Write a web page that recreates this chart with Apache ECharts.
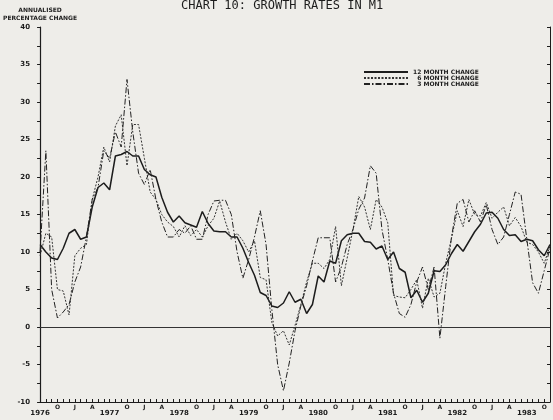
<!DOCTYPE html>
<html>
<head>
<meta charset="utf-8">
<script src="https://cdn.jsdelivr.net/npm/echarts@6/dist/echarts.min.js"></script>
<style>
	html, body { margin: 0; padding: 0; background: #eeede9; }
	#chart { width: 553px; height: 420px; }
</style>
</head>
<body>
<div id="chart"></div>
<script>
	// monthly, Jan 1976 .. May 1983
	var years = ['1976', '1977', '1978', '1979', '1980', '1981', '1982', '1983'];
	var quarterLabels = ['', 'O', 'J', 'A'];
	var seriesNames = ['12 MONTH CHANGE', '  6 MONTH CHANGE', '  3 MONTH CHANGE'];

	var change12 = [
		11, 10, 9.2, 9, 10.5, 12.5, 13, 11.7, 12, 16, 18.6, 19.2,
		18.3, 22.8, 23, 23.4, 22.8, 22.8, 21, 20.3, 20, 17.3, 15.3, 14,
		14.8, 13.9, 13.6, 13.3, 15.4, 13.8, 12.8, 12.7, 12.7, 12, 12, 10.5,
		8.6, 6.9, 4.6, 4.2, 2.8, 2.6, 3.2, 4.7, 3.3, 3.7, 1.8, 3,
		6.8, 6, 8.8, 8.5, 11.5, 12.3, 12.5, 12.5, 11.4, 11.3, 10.4, 10.8,
		9, 10, 7.8, 7.3, 3.9, 4.9, 3.3, 4.5, 7.5, 7.4, 8.3, 9.8,
		11, 10.1, 11.4, 12.7, 13.7, 15.2, 15.3, 14.5, 13, 12.2, 12.3, 11.4,
		11.7, 11.5, 10.3, 9.5, 11
	];
	var change6 = [
		9.5, 12.5, 12, 5, 4.8, 1.6, 9.5, 10.5, 11, 17, 20, 24,
		22, 26.8, 28.3, 21.5, 27, 27, 22.5, 18, 17, 15, 14, 13.4,
		12, 13.5, 12.2, 13, 12, 13.5, 14.5, 16.8, 14, 11.7, 12.5, 11.5,
		10, 11.5, 6.6, 6.3, 0.6, -1.2, -0.5, -2.4, 0.2, 3, 6, 8.5,
		8.5, 7.8, 9, 13.4, 5.5, 9.2, 13, 17.4, 16, 13, 17, 16,
		13.9, 4.2, 4, 3.9, 5, 6.3, 2.5, 6.5, 4, 4.5, 8.5, 11.8,
		15.5, 13.4, 17, 15, 14.8, 16.6, 14.5, 15.3, 16, 13.5, 14.6, 13.4,
		11.3, 11, 10, 8.5, 10.8
	];
	var change3 = [
		10, 23.5, 5, 1.2, 2, 3, 6, 8, 12, 17, 18.6, 23.5,
		22.5, 26, 24, 33, 26, 20.5, 19, 21, 17, 14, 12, 12,
		13, 12.5, 13.5, 11.7, 11.7, 15, 16.8, 16.9, 16.9, 15, 10, 6.5,
		9, 12, 15.5, 11, 2.3, -5, -8.5, -4.8, -0.5, 2.8, 5.5, 8.8,
		11.9, 11.9, 11.9, 6, 8, 11, 13, 15.7, 17.2, 21.5, 20.5, 13,
		9, 4.5, 1.8, 1.3, 3, 6, 8, 5, 8, -1.5, 5.4, 12,
		16.5, 17, 14, 15.5, 14, 16.3, 13, 11, 12, 15, 18, 17.7,
		11.7, 5.9, 4.5, 7.5, 10.5
	];

	var months = [];
	for (var i = 0; i < change12.length; i++) {
		months.push(i);
	}

	var ink = '#1c1c1c';
	var font = 'DejaVu Sans';

	var chart = echarts.init(document.getElementById('chart'));
	var option = {
		backgroundColor: '#eeede9',
		animation: false,
		title: {
			text: 'CHART 10: GROWTH RATES IN M1',
			left: 176,
			top: -5,
			textStyle: {
				color: ink,
				fontFamily: 'DejaVu Sans Mono',
				fontSize: 12,
				fontWeight: 'normal'
			}
		},
		legend: {
			data: seriesNames,
			orient: 'vertical',
			left: 358,
			top: 64,
			itemWidth: 44,
			itemHeight: 7,
			itemGap: 0,
			itemStyle: { color: 'transparent', borderWidth: 0 },
			textStyle: {
				color: ink,
				fontFamily: font,
				fontSize: 6,
				fontWeight: 'bold'
			}
		},
		grid: {
			left: 39,
			right: 3,
			top: 27,
			bottom: 18
		},
		xAxis: {
			type: 'category',
			data: months,
			boundaryGap: false,
			axisLine: { onZero: false, lineStyle: { color: ink, width: 1.2 } },
			axisTick: { inside: true, length: 3, interval: 0, lineStyle: { color: ink } },
			axisLabel: {
				interval: 0,
				margin: 2,
				color: ink,
				formatter: function (v) {
					var m = +v;
					if (m % 12 === 0) {
						return '{y|' + years[m / 12] + '}';
					}
					if (m % 3 === 0) {
						return '{q|' + quarterLabels[(m % 12) / 3] + '}';
					}
					return '';
				},
				rich: {
					y: { fontFamily: font, fontSize: 7, fontWeight: 'bold', color: ink, padding: [6, 0, 0, 0] },
					q: { fontFamily: font, fontSize: 6, fontWeight: 'bold', color: ink }
				}
			},
			splitLine: { show: false }
		},
		yAxis: [{
			type: 'value',
			min: -10,
			max: 40,
			interval: 5,
			name: 'ANNUALISED\nPERCENTAGE CHANGE',
			nameLocation: 'end',
			nameGap: 5,
			nameTextStyle: {
				color: ink,
				fontFamily: font,
				fontSize: 6,
				fontWeight: 'bold',
				align: 'center',
				lineHeight: 8
			},
			axisLine: { show: true, lineStyle: { color: ink, width: 1.2 } },
			axisTick: { show: true, length: 3, lineStyle: { color: ink } },
			minorTick: { show: true, splitNumber: 2, length: 3, lineStyle: { color: ink } },
			axisLabel: {
				color: ink,
				fontFamily: font,
				fontSize: 7,
				fontWeight: 'bold',
				margin: 10
			},
			splitLine: { show: false }
		}, {
			type: 'value',
			min: -10,
			max: 40,
			interval: 5,
			position: 'right',
			axisLine: { show: true, lineStyle: { color: ink, width: 1 } },
			axisTick: { show: true, inside: true, length: 3, lineStyle: { color: ink } },
			minorTick: { show: true, splitNumber: 2, length: 3, lineStyle: { color: ink } },
			axisLabel: { show: false },
			splitLine: { show: false }
		}],
		series: [{
			name: seriesNames[0],
			type: 'line',
			data: change12,
			symbol: 'none',
			color: ink,
			lineStyle: { color: ink, width: 1.5, type: 'solid' },
			markLine: {
				silent: true,
				symbol: 'none',
				label: { show: false },
				lineStyle: { color: '#333', width: 1, type: 'solid' },
				data: [{ yAxis: 0 }]
			}
		}, {
			name: seriesNames[1],
			type: 'line',
			data: change6,
			symbol: 'none',
			color: ink,
			lineStyle: { color: '#333', width: 1, type: [2, 1.5] }
		}, {
			name: seriesNames[2],
			type: 'line',
			data: change3,
			symbol: 'none',
			color: ink,
			lineStyle: { color: '#222', width: 1, type: [6, 2, 1.5, 2] }
		}]
	};
	chart.setOption(option);
</script>
</body>
</html>
